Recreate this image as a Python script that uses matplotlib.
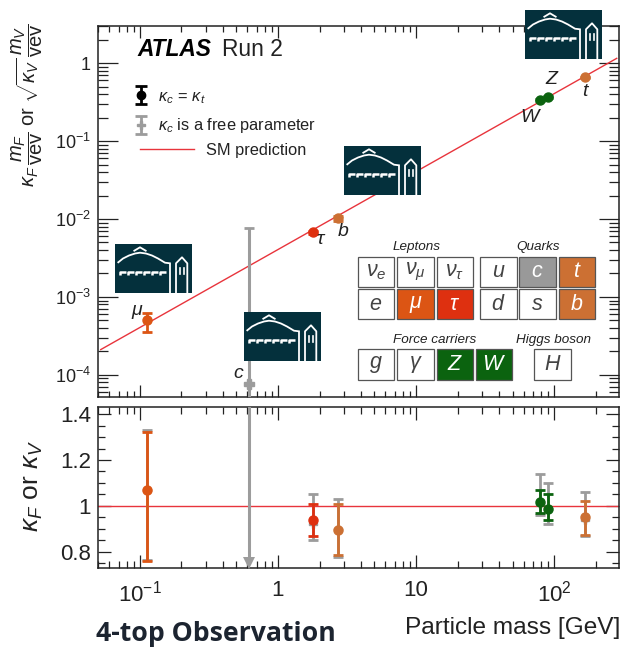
#Importing libraries
import matplotlib
matplotlib.use("Agg")
import matplotlib.pyplot as plt
from matplotlib.patches import Rectangle
from matplotlib.ticker import LogLocator, FixedLocator, FixedFormatter, NullFormatter
from matplotlib.container import ErrorbarContainer
from matplotlib.legend_handler import HandlerErrorbar

plt.rcParams['font.family'] = ['Liberation Sans', 'DejaVu Sans']
plt.rcParams['mathtext.fontset'] = 'custom'
plt.rcParams['mathtext.rm'] = 'Liberation Sans'
plt.rcParams['mathtext.it'] = 'Liberation Sans:italic'
plt.rcParams['mathtext.bf'] = 'Liberation Sans:bold'

#Particle data
names = ['mu', 'tau', 'b', 'W', 'Z', 't']
masses = [0.1125, 1.78, 2.72, 79.6, 90.6, 168]
colors = ['#dc5514', '#de3010', '#cc7033', '#0b630f', '#0b630f', '#cc7033']

#upper panel, reduced coupling
top_val = [5.0e-4, 6.74e-3, 1.02e-2, 0.334, 0.369, 0.655]
top_lo = [3.5e-4, 6.4e-3, 0.95e-2, 0.325, 0.36, 0.64]
top_hi = [6.2e-4, 7.0e-3, 1.08e-2, 0.345, 0.38, 0.67]

#lower panel, kappa with kappa_c = kappa_t
low_val = [1.07, 0.94, 0.897, 1.019, 0.988, 0.95]
low_lo = [0.76, 0.87, 0.785, 0.97, 0.94, 0.875]
low_hi = [1.323, 1.01, 1.01, 1.07, 1.05, 1.02]

#lower panel, kappa_c free
free_val = [1.07, 0.92, 0.90, 1.01, 0.985, 0.94]
free_lo = [0.765, 0.85, 0.78, 0.96, 0.92, 0.87]
free_hi = [1.33, 1.05, 1.03, 1.14, 1.10, 1.06]

#charm, only with kappa_c free
c_mass = 0.616
c_top_val = 7.7e-5
c_top_lo = 1e-5
c_top_hi = 7.6e-3
c_low_arrow = 0.752
c_low_hi = 1.6

sm_mass = [0.052, 284]
sm_top = [2.11e-4, 1.154]
sm_low = 1

top_yticks = [1, 1e-1, 1e-2, 1e-3, 1e-4]
top_ylabels = ['1', r'$\mathdefault{10^{-1}}$', r'$\mathdefault{10^{-2}}$',
               r'$\mathdefault{10^{-3}}$', r'$\mathdefault{10^{-4}}$']
low_yticks = [0.8, 1, 1.2, 1.4]
low_ylabels = ['0.8', '1', '1.2', '1.4']
xticks = [0.1, 1, 10, 100]
xlabels = [r'$\mathdefault{10^{-1}}$', '1', '10', r'$\mathdefault{10^{2}}$']

GRAY = '#9c9c9c'
RED = '#e8343c'
INK = '#222222'
W, H = 626, 648
px = 0.72  #one pixel in points at dpi 100

fig = plt.figure(figsize=(W/100, H/100), dpi=100)
ax = fig.add_axes([98/W, 1-397/H, 521/W, 371/H])
ax2 = fig.add_axes([98/W, 1-568/H, 521/W, 161.3/H])

#Main panel
ax.plot(sm_mass, sm_top, color=RED, lw=1.0, zorder=2)
ax.errorbar([c_mass], [c_top_val],
            yerr=[[c_top_val-c_top_lo], [c_top_hi-c_top_val]],
            fmt='P', color=GRAY, ms=6.5, elinewidth=2.2, capsize=3.5, capthick=2, zorder=3)
for i in range(len(names)):
    ax.errorbar([masses[i]], [top_val[i]],
                yerr=[[top_val[i]-top_lo[i]], [top_hi[i]-top_val[i]]],
                fmt='o', color=colors[i], ms=6.5, elinewidth=2, capsize=3.5, capthick=2, zorder=4)
ax.set_xscale('log')
ax.set_yscale('log')
ax.set_xlim(0.0497, 295)
ax.set_ylim(5.2e-5, 3.0)

#Ratio panel
ax2.axhline(sm_low, color=RED, lw=1.0, zorder=2)
ax2.plot([c_mass, c_mass], [c_low_arrow, c_low_hi], color=GRAY, lw=2.2, zorder=3)
ax2.plot([c_mass], [c_low_arrow], marker='v', color=GRAY, ms=8.5, mew=0, zorder=3)
for i in range(len(names)):
    ax2.errorbar([masses[i]], [free_val[i]],
                 yerr=[[free_val[i]-free_lo[i]], [free_hi[i]-free_val[i]]],
                 fmt='P', color=GRAY, ms=6, elinewidth=2, capsize=3.5, capthick=2, zorder=3)
for i in range(len(names)):
    ax2.errorbar([masses[i]], [low_val[i]],
                 yerr=[[low_val[i]-low_lo[i]], [low_hi[i]-low_val[i]]],
                 fmt='o', color=colors[i], ms=6.5, elinewidth=2, capsize=3.5, capthick=2, zorder=4)
ax2.set_xscale('log')
ax2.set_xlim(0.0497, 295)
ax2.set_ylim(0.73, 1.432)

#Ticks
for a in (ax, ax2):
    for s in a.spines.values():
        s.set_linewidth(1.1)
        s.set_color(INK)
    a.xaxis.set_major_locator(FixedLocator(xticks))
    a.xaxis.set_minor_locator(LogLocator(base=10, subs=range(2, 10), numticks=12))
    a.xaxis.set_minor_formatter(NullFormatter())
ax.xaxis.set_major_formatter(NullFormatter())
ax2.xaxis.set_major_formatter(FixedFormatter(xlabels))
ax.yaxis.set_major_locator(FixedLocator(top_yticks))
ax.yaxis.set_major_formatter(FixedFormatter(top_ylabels))
ax.yaxis.set_minor_locator(LogLocator(base=10, subs=range(2, 10), numticks=12))
ax.yaxis.set_minor_formatter(NullFormatter())
ax2.yaxis.set_major_locator(FixedLocator(low_yticks))
ax2.yaxis.set_major_formatter(FixedFormatter(low_ylabels))
ax2.yaxis.set_minor_locator(FixedLocator([0.75, 0.85, 0.9, 0.95, 1.05, 1.1, 1.15, 1.25, 1.3, 1.35]))
ax2.yaxis.set_minor_formatter(NullFormatter())

ax.tick_params(axis='x', which='major', direction='in', top=True, length=12*px, width=0.9, color=INK)
ax.tick_params(axis='x', which='minor', direction='in', top=True, length=6*px, width=0.9, color=INK)
ax.tick_params(axis='y', which='major', direction='in', right=True, length=20*px, width=0.9, color=INK,
               labelsize=13, pad=5, labelcolor=INK)
ax.tick_params(axis='y', which='minor', direction='in', right=True, length=10*px, width=0.9, color=INK)
ax2.tick_params(axis='both', which='major', direction='in', top=True, right=True, length=13*px, width=0.9,
                color=INK, labelsize=16, labelcolor=INK)
ax2.tick_params(axis='both', which='minor', direction='in', top=True, right=True, length=7*px, width=0.9, color=INK)
ax2.tick_params(axis='x', which='major', pad=9)
ax2.tick_params(axis='y', which='major', pad=5)

#Legend, two of them because the line entry sits further right
nan = float('nan')
legend_free = ax.errorbar([nan], [nan], yerr=[1], fmt='P', color=GRAY, ms=6, elinewidth=2, capsize=4, capthick=2)
legend_fit = ax.errorbar([nan], [nan], yerr=[1], fmt='o', color='black', ms=6, elinewidth=2, capsize=4, capthick=2)
first = ax.legend([legend_fit, legend_free],
                  [r'$\kappa_c\,=\,\kappa_t$', r'$\kappa_c$ is a free parameter'],
                  handler_map={ErrorbarContainer: HandlerErrorbar(yerr_size=0.55, numpoints=1)},
                  loc='upper left', bbox_to_anchor=(34/521, 1-(89-26)/371),
                  frameon=False, fontsize=11.8, handlelength=1.15, handletextpad=0.45, labelspacing=0.65,
                  borderpad=0, borderaxespad=0, labelcolor=INK)
ax.add_artist(first)
sm_handle = ax.plot([], [], color=RED, lw=1.0)[0]
ax.legend([sm_handle], ['SM prediction'], loc='upper left', bbox_to_anchor=(42/521, 1-(143-26)/371),
          frameon=False, fontsize=11.8, handlelength=3.3, handletextpad=0.75,
          borderpad=0, borderaxespad=0, labelcolor=INK)

#Overlay in pixels for logos, table and free text
ov = fig.add_axes([0, 0, 1, 1], zorder=10)
ov.set_xlim(0, W)
ov.set_ylim(H, 0)
ov.axis('off')

def logo(x, y):
    #small building logo, 77x49 pixels
    ov.add_patch(Rectangle((x, y), 77, 49, fc='#04303c', ec='none'))
    arch_x = [3.3, 8, 14, 20, 25, 31, 37, 43, 50, 55, 55]
    arch_y = [18.3, 14.5, 11.5, 9.5, 8.7, 9.5, 11.5, 14.5, 18.7, 19.3, 49]
    ov.plot([x+v for v in arch_x], [y+v for v in arch_y], color='white', lw=1.3, solid_joinstyle='miter')
    ov.plot([x+19.3, x+25, x+30.7], [y+6.7, y+3.3, y+6.7], color='white', lw=1.3)
    ov.plot([x+61, x+61, x+67, x+72.3, x+72.3], [y+49, y+19.3, y+13.3, y+19.3, y+49], color='white', lw=1.3)
    for k in (65, 68.5):
        ov.plot([x+k, x+k], [y+23.5, y+30], color='white', lw=1.2)
    for k in range(6):
        ov.plot([x+5+k*8, x+5+k*8, x+11+k*8], [y+30.5, y+27.5, y+27.5], color='white', lw=1.8, solid_capstyle='butt')

logo(115, 244)
logo(244, 312)
logo(344, 146)
logo(525, 10)

def cell(x0, x1, y0, y1, sym, fill=None):
    ov.add_patch(Rectangle((x0, y0), x1-x0, y1-y0, fc=fill or 'white', ec='#555555', lw=0.9))
    ov.text((x0+x1)/2, (y0+y1)/2, sym, ha='center', va='center', fontsize=15.5,
            color='white' if fill else '#444444')

cols = [(357.7, 394.3), (397.3, 434), (436.7, 473.3), (480, 516.7), (519.3, 556), (558.7, 595.3)]
row1 = [r'$\nu_e$', r'$\nu_\mu$', r'$\nu_\tau$', '$u$', '$c$', '$t$']
fill1 = [None, None, None, None, '#999999', '#cc7033']
row2 = ['$e$', r'$\mu$', r'$\tau$', '$d$', '$s$', '$b$']
fill2 = [None, '#dc5514', '#de3010', None, None, '#cc7033']
for i in range(6):
    cell(cols[i][0], cols[i][1], 256.7, 286.7, row1[i], fill1[i])
    cell(cols[i][0], cols[i][1], 289.3, 319.3, row2[i], fill2[i])
cell(357.7, 394.3, 349.3, 380, '$g$')
cell(397.3, 434, 349.3, 380, r'$\gamma$')
cell(436.7, 473.3, 349.3, 380, '$Z$', '#0b630f')
cell(475.7, 512.3, 349.3, 380, '$W$', '#0b630f')
cell(534, 570.7, 349.3, 380, '$H$')

for t, x, y in [('Leptons', 417, 247), ('Quarks', 538, 247), ('Force carriers', 435, 340), ('Higgs boson', 553, 340)]:
    ov.text(x, y, t, ha='center', va='center', style='italic', fontsize=9.7, color=INK)

#Point names
for t, x, y in [(r'$\mu$', 137, 312), (r'$\tau$', 321, 240), ('$b$', 343, 232), ('$c$', 239, 374),
                ('$W$', 531, 117), ('$Z$', 552, 80), ('$t$', 586, 91)]:
    ov.text(x, y, t, ha='center', va='center', fontsize=14, color=INK)

ov.text(137, 50, 'ATLAS', ha='left', va='center', fontsize=16.4, weight='bold', style='italic', color='black')
ov.text(222, 50, 'Run 2', ha='left', va='center', fontsize=16.4, color=INK)

#Axis titles
ov.text(27, 105, r'$\kappa_F\,\dfrac{m_F}{\mathrm{vev}}$ or $\sqrt{\kappa_V}\,\dfrac{m_V}{\mathrm{vev}}$',
        rotation=90, ha='center', va='center', fontsize=14.5, color=INK)
ov.text(33, 486, r'$\kappa_F$ or $\kappa_V$', rotation=90, ha='center', va='center', fontsize=19, color=INK)
ov.text(620, 628, 'Particle mass [GeV]', ha='right', va='center', fontsize=17.6, color=INK)
ov.text(96, 634, '4-top Observation', ha='left', va='center', fontsize=19.2, weight='bold',
        family='Open Sans', color='#1c2430')

fig.savefig('out.png', dpi=100)
